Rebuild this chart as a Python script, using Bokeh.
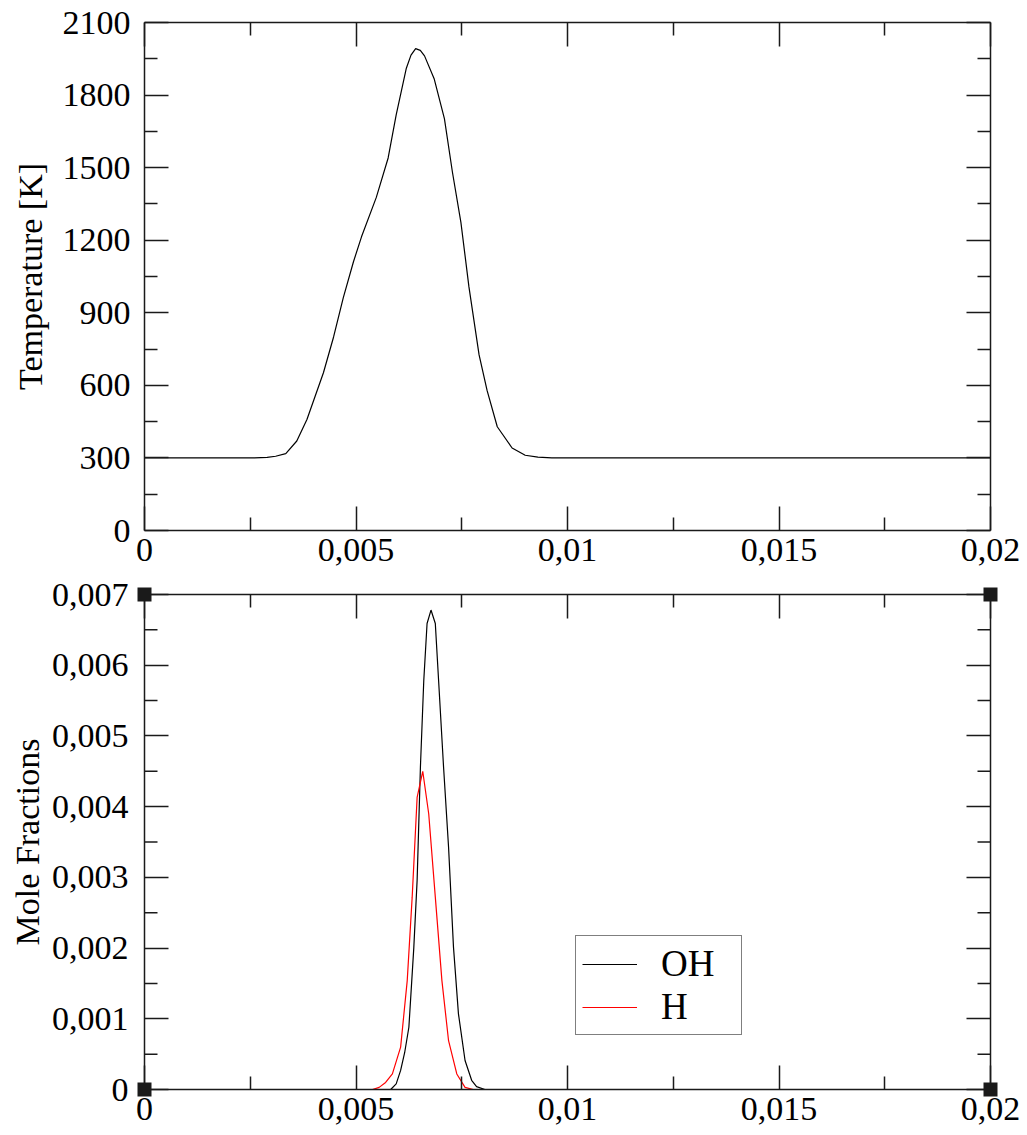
import math
from bokeh.plotting import figure
from bokeh.layouts import column
from bokeh.models import (Range1d, LinearAxis, FixedTicker, CustomJSTickFormatter,
                          Legend, LegendItem)
from bokeh.embed import file_html
from bokeh.resources import INLINE

# ---------------- data ----------------
dist_T = [0.0, 0.0026, 0.0029, 0.0031, 0.00334, 0.0036, 0.00384, 0.00423, 0.00447, 0.0047,
          0.00494, 0.00513, 0.00548, 0.00576, 0.00595, 0.00619, 0.0063, 0.00641, 0.00652,
          0.00662, 0.00685, 0.00709, 0.00728, 0.00748, 0.00767, 0.00791, 0.0081, 0.00834,
          0.00869, 0.009, 0.0093, 0.00963, 0.02]
temperature = [300, 300, 302, 307, 318, 370, 459, 652, 800, 963, 1111, 1214, 1377, 1540,
               1718, 1911, 1965, 1992, 1985, 1962, 1866, 1703, 1481, 1274, 1007, 726, 578,
               429, 341, 311, 303, 300, 300]

dist_OH = [0.00582, 0.00595, 0.006055, 0.00615, 0.00625, 0.006367, 0.006445, 0.006523,
           0.006602, 0.00668, 0.006773, 0.006875, 0.006953, 0.00707, 0.007188, 0.007305,
           0.007422, 0.007578, 0.007734, 0.00785, 0.008047]
mf_OH = [0.0, 0.00008, 0.00027, 0.00052, 0.00088, 0.00201, 0.00296, 0.00456, 0.00578,
         0.00659, 0.00678, 0.00659, 0.00578, 0.00456, 0.00343, 0.00201, 0.00107, 0.00041,
         0.00013, 0.00004, 0.0]

dist_H = [0.00539, 0.005547, 0.0057, 0.00586, 0.006055, 0.006211, 0.006328, 0.006445,
          0.006578, 0.006719, 0.006875, 0.007031, 0.007188, 0.007383, 0.007578, 0.007773]
mf_H = [0.0, 0.00003, 0.0001, 0.00022, 0.0006, 0.00154, 0.00272, 0.00413, 0.0045, 0.0039,
        0.00272, 0.00154, 0.00069, 0.00022, 0.00003, 0.0]

x_ticks = [0, 0.005, 0.01, 0.015, 0.02]
x_minor = [0.0025, 0.0075, 0.0125, 0.0175]
T_ticks = [0, 300, 600, 900, 1200, 1500, 1800, 2100]
T_minor = [150, 450, 750, 1050, 1350, 1650, 1950]
mf_ticks = [0, 0.001, 0.002, 0.003, 0.004, 0.005, 0.006, 0.007]
mf_minor = [0.0005, 0.0015, 0.0025, 0.0035, 0.0045, 0.0055, 0.0065]
series_labels = ["OH", "H"]

# ---------------- style ----------------
FONT = "Liberation Serif"
AX = "#1a1a1a"
TICK_FS = "34px"
X0, X1 = 0, 0.02
MF0, MF1 = 0, 0.007

fmt_code = """
if (Math.abs(tick) < 1e-12) return "0";
let s = tick.toFixed(4).replace(/0+$/, "").replace(/\\.$/, "");
return s.replace(".", ",");
"""


def make_axis(ticker, labels, standoff=10, corner=False):
    ax = LinearAxis(ticker=ticker)
    ax.axis_line_color = AX
    ax.axis_line_width = 1.5
    ax.major_tick_line_color = AX
    ax.major_tick_line_width = 1.5
    ax.major_tick_in = 24
    ax.major_tick_out = 0
    ax.minor_tick_line_color = AX
    if corner:
        # minor slots used for the square corner markers
        ax.minor_tick_in = 7
        ax.minor_tick_out = 7
        ax.minor_tick_line_width = 14
        ax.minor_tick_line_cap = "butt"
    else:
        ax.minor_tick_in = 13
        ax.minor_tick_out = 0
        ax.minor_tick_line_width = 1.5
    if labels:
        ax.formatter = CustomJSTickFormatter(code=fmt_code)
        ax.major_label_text_font = FONT
        ax.major_label_text_font_size = TICK_FS
        ax.major_label_text_color = "black"
        ax.major_label_standoff = standoff
    else:
        ax.formatter = CustomJSTickFormatter(code="return '';")
        ax.major_label_text_font_size = "0px"
        ax.major_label_standoff = 0
    ax.axis_label_text_font = FONT
    ax.axis_label_text_font_size = "34px"
    ax.axis_label_text_font_style = "normal"
    ax.axis_label_text_color = "black"
    return ax


# ---------------- top: temperature ----------------
p1 = figure(width=1027, height=576, x_range=Range1d(X0, X1), y_range=Range1d(0, 2100),
            output_backend="svg", toolbar_location=None,
            x_axis_location=None, y_axis_location=None,
            min_border_left=140, min_border_right=37, min_border_top=22, min_border_bottom=46)
p1.grid.visible = False
p1.outline_line_color = None
p1.background_fill_color = "white"
p1.border_fill_color = "white"

xt = FixedTicker(ticks=x_ticks, minor_ticks=x_minor)
tt = FixedTicker(ticks=T_ticks, minor_ticks=T_minor)
p1.add_layout(make_axis(xt, True, 8), "below")
p1.add_layout(make_axis(xt, False), "above")
yl1 = make_axis(tt, True, 14)
yl1.axis_label = "Temperature [K]"
yl1.axis_label_standoff = 11
p1.add_layout(yl1, "left")
p1.add_layout(make_axis(tt, False), "right")

p1.line(dist_T, temperature, line_color="black", line_width=1.2)

# ---------------- bottom: mole fractions ----------------
p2 = figure(width=1027, height=559, x_range=Range1d(X0, X1), y_range=Range1d(MF0, MF1),
            output_backend="svg", toolbar_location=None,
            x_axis_location=None, y_axis_location=None,
            min_border_left=144, min_border_right=31, min_border_top=18, min_border_bottom=46)
p2.grid.visible = False
p2.outline_line_color = None
p2.background_fill_color = "white"
p2.border_fill_color = "white"

corner_ticker = FixedTicker(ticks=mf_ticks, minor_ticks=[MF0, MF1])
p2.add_layout(make_axis(xt, True, 8), "below")
p2.add_layout(make_axis(xt, False), "above")
yl2 = make_axis(corner_ticker, True, 9, corner=True)
yl2.axis_label = "Mole Fractions"
yl2.axis_label_standoff = 3
p2.add_layout(yl2, "left")
p2.add_layout(make_axis(corner_ticker, False, corner=True), "right")

# inward minor ticks on the left/right frame edges
p2.ray(x=[X0] * len(mf_minor), y=mf_minor, length=13, length_units="screen", angle=0,
       line_color=AX, line_width=1.5)
p2.ray(x=[X1] * len(mf_minor), y=mf_minor, length=13, length_units="screen", angle=math.pi,
       line_color=AX, line_width=1.5)

r_oh = p2.line(dist_OH, mf_OH, line_color="black", line_width=1.2)
r_h = p2.line(dist_H, mf_H, line_color="#ff0000", line_width=1.2)

legend = Legend(items=[LegendItem(label=series_labels[0], renderers=[r_oh]),
                       LegendItem(label=series_labels[1], renderers=[r_h])],
                location=(431, 54))
legend.label_text_font = FONT
legend.label_text_font_size = "37px"
legend.label_text_color = "black"
legend.border_line_color = "black"
legend.border_line_width = 1.2
legend.background_fill_color = "white"
legend.background_fill_alpha = 1.0
legend.padding = 6
legend.spacing = 0
legend.margin = 0
legend.glyph_width = 55
legend.label_standoff = 24
legend.label_width = 74
p2.add_layout(legend)

layout = column(p1, p2, spacing=0)
open("out.html", "w").write(file_html(layout, INLINE))
